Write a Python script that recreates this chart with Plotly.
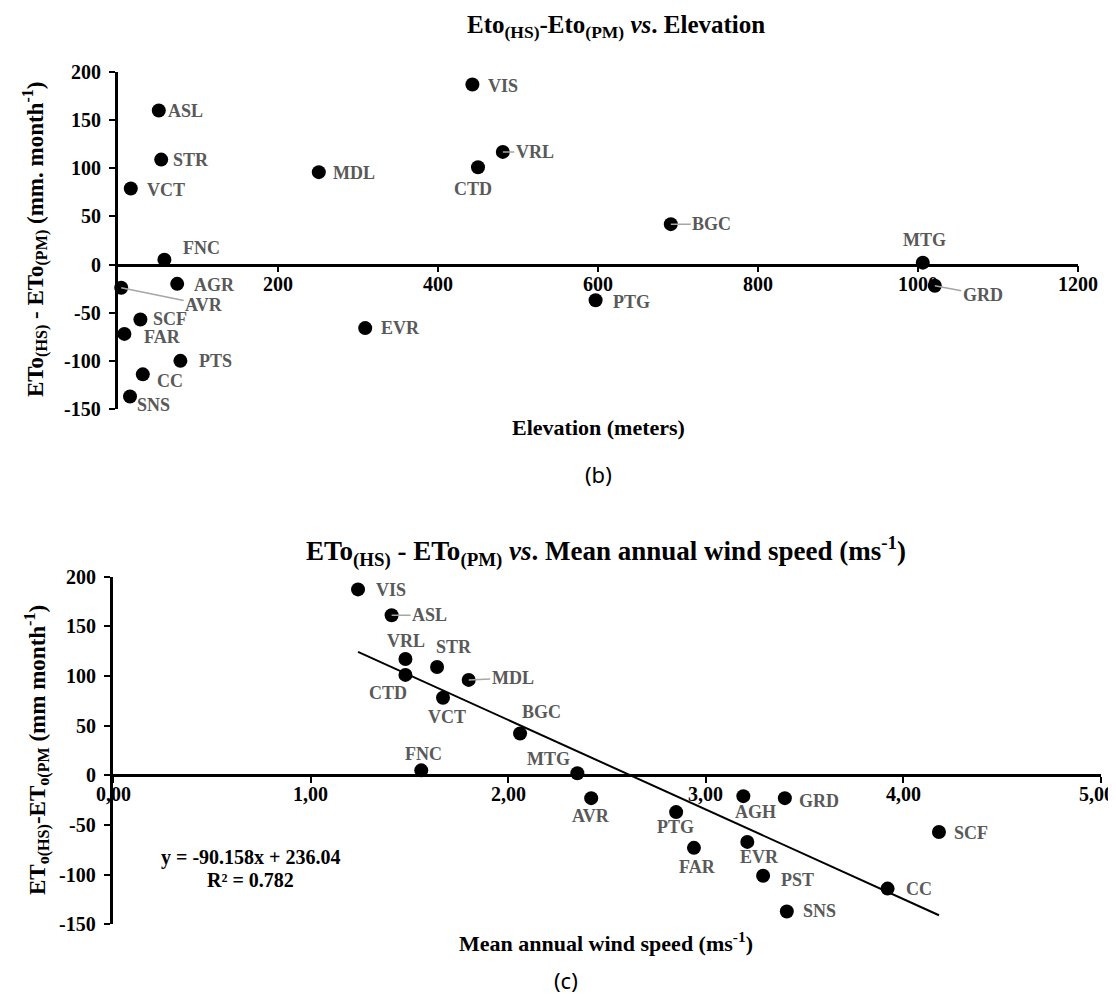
import plotly.graph_objects as go

# ---------------- data ----------------
# Chart (b): difference vs elevation
stations_b = ["ASL", "STR", "VCT", "MDL", "VIS", "CTD", "VRL", "BGC", "MTG", "GRD",
              "FNC", "AGR", "AVR", "SCF", "FAR", "PTS", "CC", "SNS", "EVR", "PTG"]
elevation_m = [51, 54, 16, 251, 443, 450, 481, 691, 1006, 1021,
               58, 74, 4, 28, 8, 78, 31, 15, 309, 597]
diff_b = [160, 109, 79, 96, 187, 101, 117, 42, 2, -22,
          5, -20, -24, -57, -72, -100, -114, -137, -66, -37]

# Chart (c): difference vs mean annual wind speed
stations_c = ["VIS", "ASL", "VRL", "STR", "CTD", "MDL", "VCT", "BGC", "FNC", "MTG",
              "AVR", "PTG", "AGH", "GRD", "FAR", "EVR", "PST", "SNS", "CC", "SCF"]
wind_ms = [1.24, 1.41, 1.48, 1.64, 1.48, 1.80, 1.67, 2.06, 1.56, 2.35,
           2.42, 2.85, 3.19, 3.40, 2.94, 3.21, 3.29, 3.41, 3.92, 4.18]
diff_c = [187, 161, 117, 109, 101, 96, 78, 42, 5, 2,
          -23, -37, -21, -23, -73, -67, -101, -137, -114, -57]

# linear trend printed on the chart
slope, intercept, r2 = -90.158, 236.04, 0.782

# ticks
y_ticks = [-150, -100, -50, 0, 50, 100, 150, 200]
y_ticktext = ["-150", "-100", "-50", "0", "50", "100", "150", "200"]
xb_ticks = [200, 400, 600, 800, 1000, 1200]
xb_ticktext = ["200", "400", "600", "800", "1000", "1200"]
xc_ticks = [0, 1, 2, 3, 4, 5]
xc_ticktext = ["0,00", "1,00", "2,00", "3,00", "4,00", "5,00"]

# ---------------- label placement (pixel offsets: dx, dy, leader line) ----------------
off_b = {"ASL": (27, 0, 0), "STR": (30, 0, 0), "VCT": (35, 1, 0), "MDL": (35, 1, 0),
         "VIS": (31, 1, 0), "CTD": (-5, 22, 0), "VRL": (32, 0, 1), "BGC": (41, 0, 1),
         "MTG": (2, -23, 0), "GRD": (48, 9, 1), "FNC": (37, -12, 0), "AGR": (37, 1, 0),
         "AVR": (83, 17, 1), "SCF": (30, 0, 0), "FAR": (38, 3, 0), "PTS": (35, 0, 0),
         "CC": (27, 7, 0), "SNS": (23, 9, 0), "EVR": (35, 0, 0), "PTG": (36, 2, 0)}
off_c = {"VIS": (33, 1, 0), "ASL": (38, 0, 1), "VRL": (1, -18, 0), "STR": (17, -20, 0),
         "CTD": (-17, 18, 0), "MDL": (44, -2, 1), "VCT": (4, 19, 0), "BGC": (21, -22, 0),
         "FNC": (2, -16, 0), "MTG": (-29, -14, 0), "AVR": (0, 18, 0), "PTG": (-1, 15, 0),
         "AGH": (12, 16, 0), "GRD": (34, 3, 0), "FAR": (4, 19, 0), "EVR": (12, 15, 0),
         "PST": (34, 4, 0), "SNS": (33, 0, 0), "CC": (31, 0, 0), "SCF": (32, 1, 0)}

W, H = 1116, 994
SERIF = "Liberation Serif"
LABEL_GREY = "#595959"
LEADER_GREY = "#a6a6a6"


def px(x):
    return x / W


def py(y):
    return 1 - y / H


# plot areas in pixels
b_x0, b_x1, b_ytop, b_ybot = 110, 1070, 64, 401
c_x0, c_x1, c_ytop, c_ybot = 105, 1093, 568.5, 916.4
y_range = [-150, 200]

b_ydom = [py(b_ybot), py(b_ytop)]
c_ydom = [py(c_ybot), py(c_ytop)]


def zero_pos(dom):
    return dom[0] + (0 - y_range[0]) / (y_range[1] - y_range[0]) * (dom[1] - dom[0])


def axis_style():
    return dict(showgrid=False, zeroline=False, showline=True, linecolor="black",
                linewidth=2.5, ticks="outside", ticklen=6, tickwidth=2, tickcolor="black",
                showticklabels=False, automargin=False)


fig = go.Figure()

marker = dict(color="black", size=14)
fig.add_trace(go.Scatter(x=elevation_m, y=diff_b, mode="markers", marker=marker,
                         xaxis="x", yaxis="y", showlegend=False, cliponaxis=False))
fig.add_trace(go.Scatter(x=wind_ms, y=diff_c, mode="markers", marker=marker,
                         xaxis="x2", yaxis="y2", showlegend=False, cliponaxis=False))
xfit = [min(wind_ms), max(wind_ms)]
yfit = [slope * v + intercept for v in xfit]
fig.add_trace(go.Scatter(x=xfit, y=yfit, mode="lines", line=dict(color="black", width=2),
                         xaxis="x2", yaxis="y2", showlegend=False, hoverinfo="skip"))

fig.update_layout(
    width=W, height=H, margin=dict(l=0, r=0, t=0, b=0),
    font=dict(family=SERIF, color="black"),
    plot_bgcolor="white", paper_bgcolor="white",
    xaxis=dict(domain=[px(b_x0), px(b_x1)], range=[0, 1200], tickvals=xb_ticks,
               anchor="free", position=zero_pos(b_ydom), **axis_style()),
    yaxis=dict(domain=b_ydom, range=y_range, tickvals=y_ticks, anchor="x", **axis_style()),
    xaxis2=dict(domain=[px(c_x0), px(c_x1)], range=[0, 5], tickvals=xc_ticks,
                anchor="free", position=zero_pos(c_ydom), **axis_style()),
    yaxis2=dict(domain=c_ydom, range=y_range, tickvals=y_ticks, anchor="x2", **axis_style()),
)

annots = []
TICKFONT = dict(family=SERIF, size=20, color="black")


def add_ticklabels(xref, yref, x_left_paper, xvals, xtext, yvals, ytext, last_shift=0):
    for v, t in zip(yvals, ytext):
        annots.append(dict(x=x_left_paper, y=v, xref="paper", yref=yref, text="<b>%s</b>" % t,
                           showarrow=False, xanchor="right", yanchor="middle", xshift=-15,
                           font=TICKFONT))
    for i, (v, t) in enumerate(zip(xvals, xtext)):
        annots.append(dict(x=v, y=0, xref=xref, yref=yref, text="<b>%s</b>" % t,
                           showarrow=False, xanchor="center", yanchor="top", yshift=-6,
                           xshift=last_shift if i == len(xvals) - 1 else 0,
                           font=TICKFONT))


add_ticklabels("x", "y", px(b_x0), xb_ticks, xb_ticktext, y_ticks, y_ticktext)
add_ticklabels("x2", "y2", px(c_x0), xc_ticks, xc_ticktext, y_ticks, y_ticktext, last_shift=-5)


def add_labels(names, xs, ys, offs, xref, yref):
    for n, xv, yv in zip(names, xs, ys):
        dx, dy, lead = offs[n]
        base = dict(x=xv, y=yv, xref=xref, yref=yref, text="<b>%s</b>" % n,
                    font=dict(family=SERIF, size=18, color=LABEL_GREY))
        if lead:
            base.update(showarrow=True, arrowhead=0, arrowwidth=1.5, arrowcolor=LEADER_GREY,
                        ax=dx, ay=dy, axref="pixel", ayref="pixel")
        else:
            base.update(showarrow=False, xshift=dx, yshift=-dy)
        annots.append(base)


add_labels(stations_b, elevation_m, diff_b, off_b, "x", "y")
add_labels(stations_c, wind_ms, diff_c, off_c, "x2", "y2")


def text_at(x, y, text, size=20, angle=0, family=SERIF, is_bold=True, color="black"):
    annots.append(dict(x=px(x), y=py(y), xref="paper", yref="paper",
                       text=("<b>%s</b>" % text) if is_bold else text,
                       showarrow=False, textangle=angle, xanchor="center", yanchor="middle",
                       font=dict(family=family, size=size, color=color)))


# titles
text_at(608, 19, "Eto<sub>(HS)</sub>-Eto<sub>(PM)</sub> <i>vs</i>. Elevation", size=25)
text_at(598, 543, "ETo<sub>(HS)</sub> - ETo<sub>(PM)</sub> <i>vs</i>. Mean annual wind speed (ms<sup>-1</sup>)", size=27)
# axis titles
text_at(590, 419, "Elevation (meters)", size=22)
text_at(27, 232, "ETo<sub>(HS)</sub> - ETo<sub>(PM)</sub> (mm. month<sup>-1</sup>)", size=23, angle=-90)
text_at(598, 934, "Mean annual wind speed (ms<sup>-1</sup>)", size=22)
text_at(29, 742, "ET<sub>o(HS)</sub>-ET<sub>o(PM</sub> (mm month<sup>-1</sup>)", size=23, angle=-90)
# regression equation
text_at(242, 849, f"y = {slope}x + {intercept}", size=20)
text_at(242, 872, f"R² = {r2}", size=20)
# panel letters
text_at(590, 466, "(b)", size=22, family="Noto Sans", is_bold=False)
text_at(558, 972, "(c)", size=22, family="Noto Sans", is_bold=False)

fig.update_layout(annotations=annots)
fig.write_html("out.html")
